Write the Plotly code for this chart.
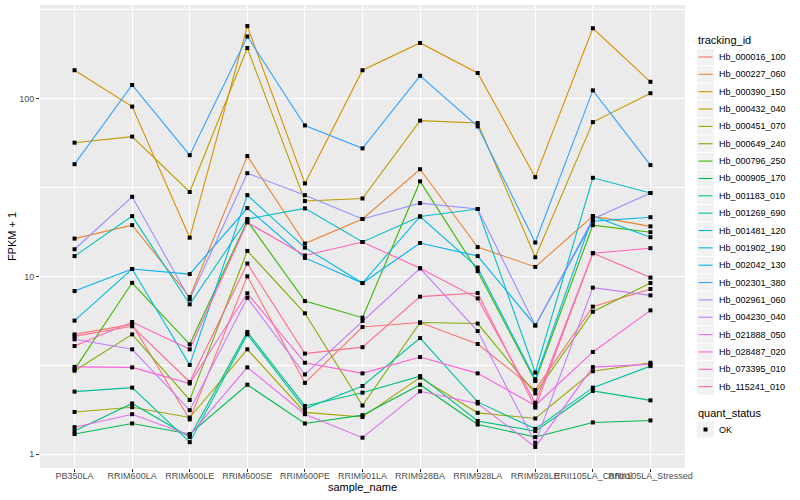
import plotly.graph_objects as go

samples = ["PB350LA", "RRIM600LA", "RRIM600LE", "RRIM600SE", "RRIM600PE", "RRIM901LA",
           "RRIM928BA", "RRIM928LA", "RRIM928LE", "RRII105LA_Control", "RRII105LA_Stressed"]

tracking_ids = ["Hb_000016_100", "Hb_000227_060", "Hb_000390_150", "Hb_000432_040", "Hb_000451_070",
                "Hb_000649_240", "Hb_000796_250", "Hb_000905_170", "Hb_001183_010", "Hb_001269_690",
                "Hb_001481_120", "Hb_001902_190", "Hb_002042_130", "Hb_002301_380", "Hb_002961_060",
                "Hb_004230_040", "Hb_021888_050", "Hb_028487_020", "Hb_073395_010", "Hb_115241_010"]

colors = ["#F8766D", "#EA8331", "#D89000", "#C09B00", "#A3A500", "#7CAE00", "#39B600", "#00BB4E",
          "#00BF7D", "#00C1A3", "#00BFC4", "#00BAE0", "#00B0F6", "#35A2FF", "#9590FF", "#C77CFF",
          "#E76BF3", "#FA62DB", "#FF62BC", "#FF6C91"]

# FPKM + 1 values, one list per gene, in sample order
hb_000016_100 = [4.72, 5.37, 1.57, 10.0, 2.52, 5.19, 5.5, 4.17, 2.3, 6.76, 8.49]
hb_000227_060 = [16.3, 19.4, 7.65, 47.4, 15.3, 21.0, 40.0, 14.6, 11.3, 21.8, 19.1]
hb_000390_150 = [144, 90, 16.5, 255, 33.3, 144, 205, 139, 36.1, 248, 124]
hb_000432_040 = [56.4, 61, 29.8, 192, 26.5, 27.4, 75, 72.7, 12.8, 73.6, 107]
hb_000451_070 = [1.73, 1.84, 1.61, 3.89, 1.72, 1.62, 2.70, 1.71, 1.59, 2.93, 3.27]
hb_000649_240 = [2.95, 4.72, 2.02, 13.9, 6.2, 1.88, 5.5, 5.43, 2.2, 6.33, 9.17]
hb_000796_250 = [3.0, 9.2, 4.15, 20.5, 7.26, 5.86, 34.2, 10.7, 2.58, 19.4, 17.7]
hb_000905_170 = [1.30, 1.49, 1.30, 2.46, 1.49, 1.66, 2.46, 1.47, 1.25, 1.51, 1.55]
hb_001183_010 = [1.35, 1.93, 1.25, 4.87, 1.87, 2.22, 2.75, 1.54, 1.35, 2.27, 2.01]
hb_001269_690 = [2.25, 2.37, 1.17, 4.72, 1.80, 2.42, 4.5, 1.97, 1.39, 2.37, 3.13]
hb_001481_120 = [13.0, 21.8, 6.96, 21.0, 24.1, 15.6, 21.7, 23.9, 2.88, 35.8, 29.4]
hb_001902_190 = [5.64, 11.0, 3.18, 28.6, 14.5, 9.17, 21.7, 11.2, 2.64, 21.8, 16.6]
hb_002042_130 = [8.27, 11.0, 10.3, 24.2, 12.7, 9.17, 15.4, 13.0, 5.3, 20.4, 21.5]
hb_002301_380 = [42.7, 119, 48, 223, 70.5, 52.4, 134, 69.6, 15.5, 111, 42.2]
hb_002961_060 = [14.2, 28, 7.43, 38, 28.6, 21.0, 25.8, 23.9, 5.3, 21.0, 29.4]
hb_004230_040 = [4.43, 3.89, 1.77, 7.57, 2.81, 5.62, 11.1, 4.93, 1.16, 8.64, 7.82]
hb_021888_050 = [1.42, 1.68, 1.28, 3.08, 1.68, 1.24, 2.26, 1.93, 1.10, 3.09, 3.2]
hb_028487_020 = [3.1, 3.08, 2.5, 8.03, 3.27, 2.85, 3.52, 2.85, 1.88, 3.76, 6.44]
hb_073395_010 = [4.06, 5.54, 3.89, 20.1, 13.1, 15.6, 11.1, 7.52, 1.95, 13.5, 14.4]
hb_115241_010 = [4.6, 5.24, 2.55, 11.8, 3.68, 4.0, 7.69, 8.06, 1.83, 13.5, 9.84]

series = [hb_000016_100, hb_000227_060, hb_000390_150, hb_000432_040, hb_000451_070,
          hb_000649_240, hb_000796_250, hb_000905_170, hb_001183_010, hb_001269_690,
          hb_001481_120, hb_001902_190, hb_002042_130, hb_002301_380, hb_002961_060,
          hb_004230_040, hb_021888_050, hb_028487_020, hb_073395_010, hb_115241_010]

W, H = 800, 500
ML, MR, MT, MB = 40, 115, 5, 32
PW, PH = W - ML - MR, H - MT - MB


def px(x):
    return (x - ML) / PW


def py(y):
    return (H - MB - y) / PH


fig = go.Figure()
for name, col, vals in zip(tracking_ids, colors, series):
    fig.add_trace(go.Scatter(x=samples, y=vals, mode="lines", name=name,
                             line=dict(color=col, width=1.1), showlegend=False))

all_x, all_y = [], []
for vals in series:
    all_x += samples
    all_y += vals
fig.add_trace(go.Scatter(x=all_x, y=all_y, mode="markers", name="OK",
                         marker=dict(symbol="square", size=4, color="black"),
                         showlegend=False))

# ggplot-style legend drawn in paper coordinates
shapes, annots = [], []
FONT = "Liberation Sans, Arial, sans-serif"
annots.append(dict(x=px(696), y=py(40), xref="paper", yref="paper", text="tracking_id",
                   showarrow=False, xanchor="left", yanchor="middle",
                   font=dict(family=FONT, size=11, color="black")))
step = 17.35
for i, (name, col) in enumerate(zip(tracking_ids, colors)):
    yc = 57 + step * i
    shapes.append(dict(type="rect", xref="paper", yref="paper", x0=px(697), x1=px(714),
                       y0=py(yc - 8.2), y1=py(yc + 8.2), fillcolor="#F2F2F2", line=dict(width=0),
                       layer="above"))
    shapes.append(dict(type="line", xref="paper", yref="paper", x0=px(698.5), x1=px(712.5),
                       y0=py(yc), y1=py(yc), line=dict(color=col, width=1.1), layer="above"))
    annots.append(dict(x=px(717), y=py(yc), xref="paper", yref="paper", text=name,
                       showarrow=False, xanchor="left", yanchor="middle",
                       font=dict(family=FONT, size=9, color="black")))

annots.append(dict(x=px(696), y=py(413), xref="paper", yref="paper", text="quant_status",
                   showarrow=False, xanchor="left", yanchor="middle",
                   font=dict(family=FONT, size=11, color="black")))
shapes.append(dict(type="rect", xref="paper", yref="paper", x0=px(697), x1=px(714),
                   y0=py(429.5 - 8.2), y1=py(429.5 + 8.2), fillcolor="#F2F2F2", line=dict(width=0),
                   layer="above"))
shapes.append(dict(type="rect", xref="paper", yref="paper", x0=px(703.5), x1=px(707.5),
                   y0=py(429.5 - 2), y1=py(429.5 + 2), fillcolor="black", line=dict(width=0),
                   layer="above"))
annots.append(dict(x=px(717), y=py(429.5), xref="paper", yref="paper", text="OK",
                   showarrow=False, xanchor="left", yanchor="middle",
                   font=dict(family=FONT, size=9, color="black")))

fig.update_layout(
    width=W, height=H,
    margin=dict(l=ML, r=MR, t=MT, b=MB, autoexpand=False),
    plot_bgcolor="#EBEBEB", paper_bgcolor="white",
    font=dict(family=FONT, size=9, color="#4D4D4D"),
    showlegend=False, shapes=shapes, annotations=annots,
)

fig.update_xaxes(type="category", categoryorder="array", categoryarray=samples,
                 range=[-0.6, len(samples) - 0.4], showgrid=True, gridcolor="white",
                 gridwidth=1.1, ticks="outside", ticklen=3, tickcolor="#333333",
                 tickangle=0, zeroline=False, showline=False, automargin=False,
                 ticklabelstandoff=-4,
                 tickfont=dict(size=9, color="#4D4D4D"),
                 title=dict(text="sample_name", font=dict(size=11, color="black"), standoff=0))

fig.update_yaxes(type="log", range=[-0.077, 2.525], tickvals=[1, 10, 100],
                 ticktext=["1", "10", "100"], showgrid=True, gridcolor="white",
                 gridwidth=1.1, ticks="outside", ticklen=3, tickcolor="#333333",
                 zeroline=False, showline=False, automargin=False,
                 tickfont=dict(size=9, color="#4D4D4D"),
                 minor=dict(tickvals=[10 ** 0.5, 10 ** 1.5, 10 ** 2.5], showgrid=True,
                            gridcolor="white", gridwidth=0.5, ticks=""),
                 title=dict(text="FPKM + 1", font=dict(size=11, color="black"), standoff=0))

fig.write_html("out.html", config={"displayModeBar": False},
               post_script="document.body.style.margin='0';document.body.style.padding='0';")
